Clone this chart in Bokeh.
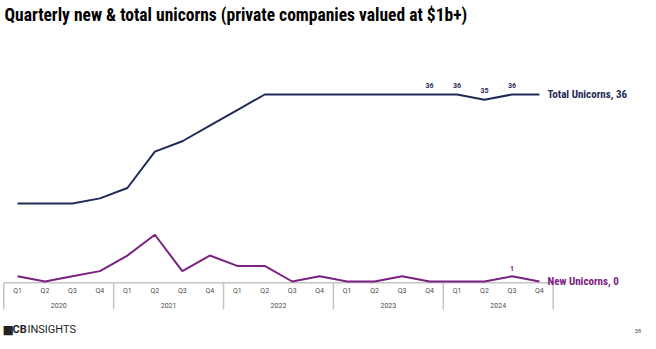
from bokeh.plotting import figure
from bokeh.models import ColumnDataSource, Range1d, Label
from bokeh.core.properties import value
from bokeh.embed import file_html
from bokeh.resources import INLINE

years = ["2020", "2021", "2022", "2023", "2024"]
quarters = ["Q1", "Q2", "Q3", "Q4"]
total_unicorns = [15, 15, 15, 16, 18, 25, 27, 30, 33, 36, 36, 36, 36, 36, 36, 36, 36, 35, 36, 36]
new_unicorns = [1, 0, 1, 2, 5, 9, 2, 5, 3, 3, 0, 1, 0, 0, 1, 0, 0, 0, 1, 0]
total_labeled = [15, 16, 17, 18]
new_labeled = [18]

NAVY = "#1f2b57"
PURPLE = "#7b2180"
GREY = "#c4c4c4"
TXT = "#4a4a4a"
COND = "'Roboto Condensed', Roboto"

n = len(total_unicorns)
xs = list(range(n))

W, H = 656, 349
p = figure(width=W, height=H, output_backend="svg", toolbar_location=None,
           x_axis_location=None, y_axis_location=None, min_border=0)
p.outline_line_color = None
p.xgrid.visible = False
p.ygrid.visible = False

pxu_x = 27.47
x0 = -17 / pxu_x
p.x_range = Range1d(x0, x0 + W / pxu_x)
pxu_y = 187 / 36
p.y_range = Range1d(-(H - 281) / pxu_y, 281 / pxu_y)

# category axis box
ax_top = -0.25
seps = [-0.5 + 4 * i for i in range(len(years) + 1)]
p.segment(x0=[seps[0]], y0=[ax_top], x1=[seps[-1]], y1=[ax_top], line_color=GREY, line_width=1.5)
p.segment(x0=seps, y0=[ax_top] * len(seps), x1=seps, y1=[-5.4] * len(seps), line_color=GREY, line_width=1.5)

qsrc = ColumnDataSource(dict(x=xs, y=[-1.9] * n, t=[quarters[i % 4] for i in xs]))
p.text(x="x", y="y", text="t", source=qsrc, text_font=value("Roboto"), text_font_size="7px",
       text_color=TXT, text_align="center", text_baseline="middle")
ysrc = ColumnDataSource(dict(x=[1.5 + 4 * i for i in range(len(years))], y=[-4.6] * len(years), t=years))
p.text(x="x", y="y", text="t", source=ysrc, text_font=value("Roboto"), text_font_size="7px",
       text_color=TXT, text_align="center", text_baseline="middle")

# lines
p.line(xs, new_unicorns, line_color=PURPLE, line_width=2)
p.line(xs, total_unicorns, line_color=NAVY, line_width=2)

# data labels
tsrc = ColumnDataSource(dict(x=total_labeled, y=[total_unicorns[i] for i in total_labeled],
                             t=[str(total_unicorns[i]) for i in total_labeled]))
p.text(x="x", y="y", text="t", source=tsrc, text_font=value("Roboto"), text_font_style="bold",
       text_font_size="7px", text_color=NAVY, text_align="center", text_baseline="middle", y_offset=-9)
nsrc = ColumnDataSource(dict(x=new_labeled, y=[new_unicorns[i] for i in new_labeled],
                             t=[str(new_unicorns[i]) for i in new_labeled]))
p.text(x="x", y="y", text="t", source=nsrc, text_font=value("Roboto"), text_font_style="bold",
       text_font_size="7px", text_color=PURPLE, text_align="center", text_baseline="middle", y_offset=-8)

# end labels
esrc = ColumnDataSource(dict(x=[n - 1, n - 1], y=[total_unicorns[-1], new_unicorns[-1]],
                             t=[f"Total Unicorns, {total_unicorns[-1]}", f"New Unicorns, {new_unicorns[-1]}"],
                             c=[NAVY, PURPLE]))
p.text(x="x", y="y", text="t", source=esrc, text_font=value(COND), text_font_style="bold",
       text_font_size="11px", text_color="c", text_align="left", text_baseline="middle", x_offset=8)

# title
p.add_layout(Label(x=4, y=H - 14, x_units="screen", y_units="screen",
                   text="Quarterly new & total unicorns (private companies valued at $1b+)",
                   text_font=COND, text_font_style="bold", text_font_size="17.5px",
                   text_color="#000000", text_baseline="middle"))
# footer
p.add_layout(Label(x=2, y=H - 329, x_units="screen", y_units="screen", text="\u25a0",
                   text_font="DejaVu Sans", text_font_size="12px", text_color="#222222", text_baseline="middle"))
p.add_layout(Label(x=12, y=H - 329, x_units="screen", y_units="screen", text="CB",
                   text_font="Roboto", text_font_style="bold", text_font_size="11px",
                   text_color="#222222", text_baseline="middle"))
p.add_layout(Label(x=27, y=H - 329, x_units="screen", y_units="screen", text="INSIGHTS",
                   text_font="Roboto", text_font_size="11px",
                   text_color="#222222", text_baseline="middle"))
p.add_layout(Label(x=634, y=H - 330, x_units="screen", y_units="screen", text="38",
                   text_font="Roboto", text_font_size="6px", text_color="#555555", text_baseline="middle"))

open("out.html", "w").write(file_html(p, INLINE))
